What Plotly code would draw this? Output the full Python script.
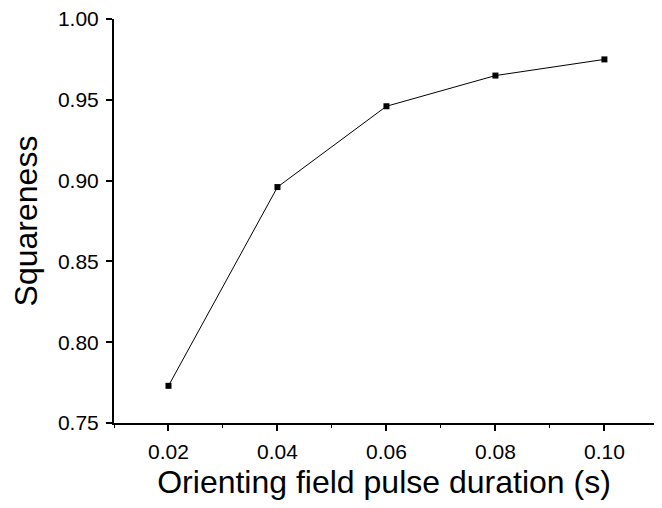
import plotly.graph_objects as go

# pulse duration (s) and measured squareness
duration = [0.02, 0.04, 0.06, 0.08, 0.10]
squareness = [0.773, 0.896, 0.946, 0.965, 0.975]

x_ticks = [0.02, 0.04, 0.06, 0.08, 0.10]
x_labels = ['0.02', '0.04', '0.06', '0.08', '0.10']
y_ticks = [0.75, 0.80, 0.85, 0.90, 0.95, 1.00]
y_labels = ['0.75', '0.80', '0.85', '0.90', '0.95', '1.00']

FONT = 'Liberation Sans, Arial, sans-serif'

fig = go.Figure()

fig.add_trace(go.Scatter(
    x = duration,
    y = squareness,
    mode = 'lines+markers',
    line = {'color': 'black', 'width': 1},
    marker = {'symbol': 'square', 'size': 6, 'color': 'black'},
    showlegend = False
))

axis_common = dict(
    automargin = False,
    showline = True,
    linecolor = 'black',
    linewidth = 2,
    ticks = 'outside',
    ticklen = 6,
    tickwidth = 1.5,
    tickcolor = 'black',
    ticklabelstandoff = 3,
    ticklabeloverflow = 'allow',
    showgrid = False,
    zeroline = False,
    tickfont = {'family': FONT, 'size': 21, 'color': 'black'},
    minor = {'ticks': 'outside', 'ticklen': 3, 'tickcolor': 'black',
             'tickwidth': 1, 'nticks': 2},
)

fig.update_xaxes(
    range = [0.01, 0.1091],
    tickvals = x_ticks,
    ticktext = x_labels,
    title = {'text': 'Orienting field pulse duration (s)',
             'font': {'family': FONT, 'size': 32, 'color': 'black'},
             'standoff': 16},
    **axis_common
)

fig.update_yaxes(
    range = [0.75, 1.00],
    tickvals = y_ticks,
    ticktext = y_labels,
    title = {'text': 'Squareness',
             'font': {'family': FONT, 'size': 32, 'color': 'black'},
             'standoff': 11},
    **axis_common
)

# page body keeps an 8px margin, so the figure is sized to fit inside it
fig.update_layout(
    width = 646,
    height = 492,
    plot_bgcolor = 'white',
    paper_bgcolor = 'white',
    margin = {'l': 106, 'r': 0, 't': 11, 'b': 77},
)

fig.write_html('out.html')
